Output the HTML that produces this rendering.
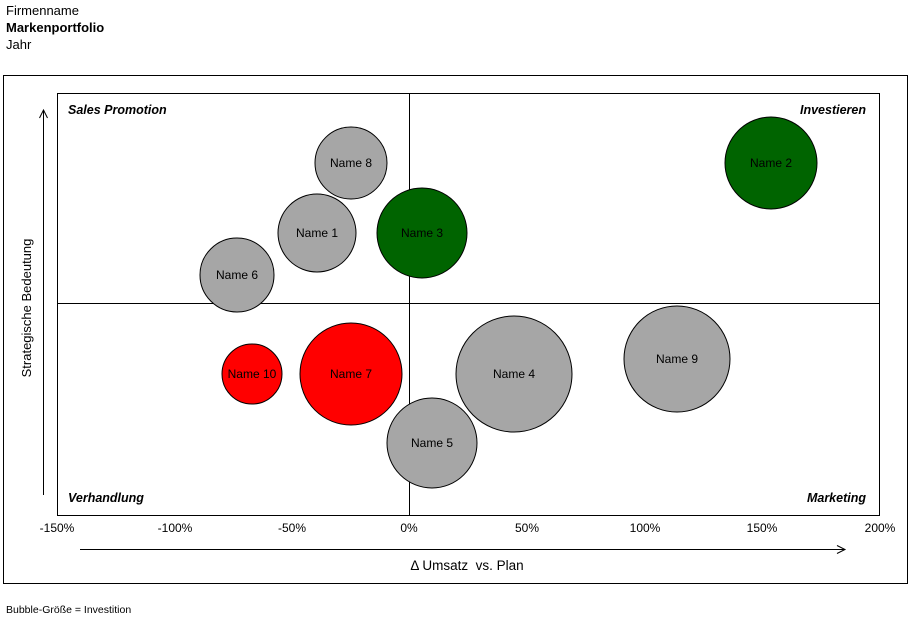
<!DOCTYPE html>
<html><head><meta charset="utf-8"><style>
body{margin:0;background:#fff;width:913px;height:623px;overflow:hidden;font-family:"Liberation Sans",Arial,sans-serif}
</style></head><body>
<svg width="913" height="623" xmlns="http://www.w3.org/2000/svg" font-family="Liberation Sans, Arial, sans-serif">
<text x="6" y="15" font-size="13">Firmenname</text>
<text x="6" y="32" font-size="13" font-weight="bold">Markenportfolio</text>
<text x="6" y="49" font-size="13">Jahr</text>
<rect x="3.5" y="75.5" width="904" height="508" fill="none" stroke="#000"/>
<rect x="57.5" y="93.5" width="822" height="422" fill="none" stroke="#000"/>
<line x1="409.5" y1="93" x2="409.5" y2="515" stroke="#000"/>
<line x1="57" y1="303.5" x2="880" y2="303.5" stroke="#000"/>
<g stroke="#000">
<circle cx="351" cy="163" r="36" fill="#a6a6a6"/>
<circle cx="317" cy="233" r="39" fill="#a6a6a6"/>
<circle cx="422" cy="233" r="45" fill="#006400"/>
<circle cx="237" cy="275" r="37" fill="#a6a6a6"/>
<circle cx="771" cy="163" r="46" fill="#006400"/>
<circle cx="252" cy="374" r="30" fill="#ff0000"/>
<circle cx="351" cy="374" r="51" fill="#ff0000"/>
<circle cx="514" cy="374" r="58" fill="#a6a6a6"/>
<circle cx="432" cy="443" r="45" fill="#a6a6a6"/>
<circle cx="677" cy="359" r="53" fill="#a6a6a6"/>
</g>
<g font-size="12" text-anchor="middle">
<text x="351" y="167">Name 8</text>
<text x="317" y="237">Name 1</text>
<text x="422" y="237">Name 3</text>
<text x="237" y="279">Name 6</text>
<text x="771" y="167">Name 2</text>
<text x="252" y="378">Name 10</text>
<text x="351" y="378">Name 7</text>
<text x="514" y="378">Name 4</text>
<text x="432" y="447">Name 5</text>
<text x="677" y="363">Name 9</text>
</g>
<g font-size="12.5" font-weight="bold" font-style="italic">
<text x="68" y="114">Sales Promotion</text>
<text x="866" y="114" text-anchor="end">Investieren</text>
<text x="68" y="502">Verhandlung</text>
<text x="866" y="502" text-anchor="end">Marketing</text>
</g>
<g font-size="12" text-anchor="middle">
<text x="57" y="532">-150%</text>
<text x="175" y="532">-100%</text>
<text x="292" y="532">-50%</text>
<text x="409" y="532">0%</text>
<text x="527" y="532">50%</text>
<text x="645" y="532">100%</text>
<text x="762" y="532">150%</text>
<text x="880" y="532">200%</text>
</g>
<line x1="43.5" y1="495" x2="43.5" y2="111" stroke="#000"/>
<path d="M39.5,118 L43.5,110 L47.5,118" fill="none" stroke="#000"/>
<line x1="80" y1="549.5" x2="844" y2="549.5" stroke="#000"/>
<path d="M837,545.5 L845,549.5 L837,553.5" fill="none" stroke="#000"/>
<text x="467" y="570" font-size="13.5" text-anchor="middle" xml:space="preserve">Δ Umsatz  vs. Plan</text>
<text transform="translate(31,308) rotate(-90)" font-size="13" text-anchor="middle">Strategische Bedeutung</text>
<text x="6" y="613" font-size="10.5">Bubble-Größe = Investition</text>
</svg>
</body></html>
